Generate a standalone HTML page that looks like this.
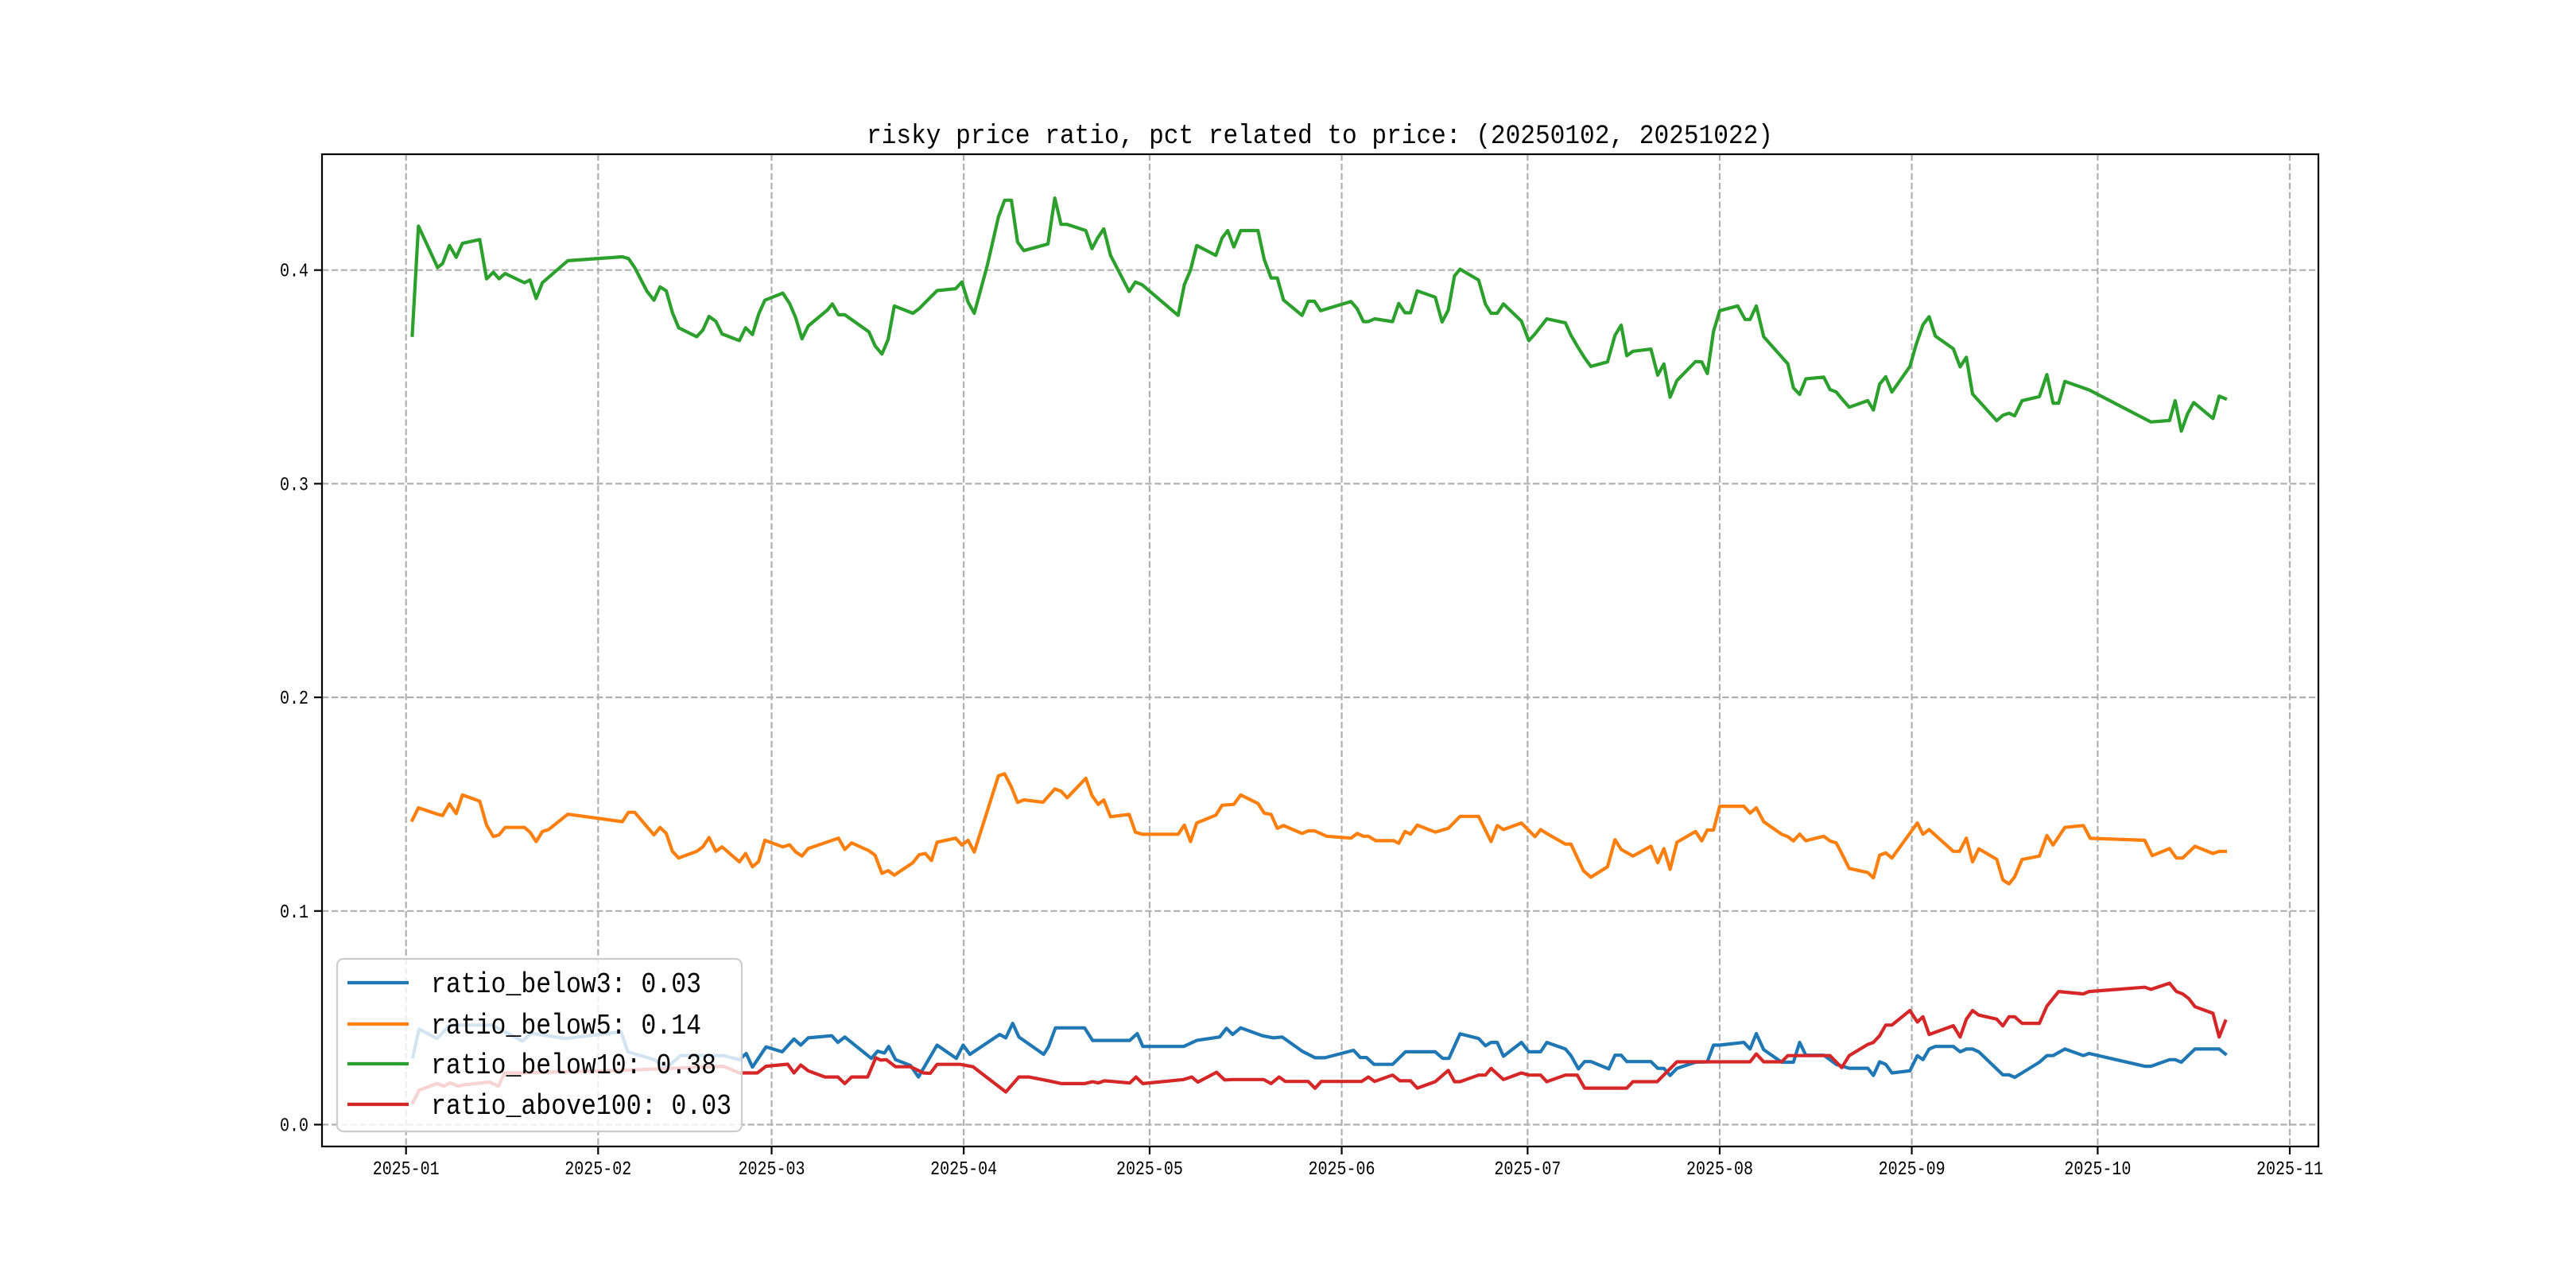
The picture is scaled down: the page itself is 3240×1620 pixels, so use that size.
<!DOCTYPE html>
<html><head><meta charset="utf-8"><style>
html,body{margin:0;padding:0;background:#fff;}
svg{display:block;}
text{font-family:"Liberation Mono","Noto Sans CJK SC",monospace;fill:#000;}
</style></head><body>
<svg id="chart" width="3240" height="1620" viewBox="0 0 3240 1620" xmlns="http://www.w3.org/2000/svg">
<rect x="0" y="0" width="3240" height="1620" fill="#fff"/>
<text x="1660" y="180" font-size="34" text-anchor="middle" textLength="1140" lengthAdjust="spacingAndGlyphs">risky price ratio, pct related to price: (20250102, 20251022)</text>
<g id="grid"></g><g id="series"></g><g id="axes"></g><g id="legend"></g>
</svg>
<script>
// x values = days since 2025-01-01
const xTickLabels = ["2025-01","2025-02","2025-03","2025-04","2025-05","2025-06","2025-07","2025-08","2025-09","2025-10","2025-11"];
const xTickDays = [0,31,59,90,120,151,181,212,243,273,304];
const yTickValues = [0.0,0.1,0.2,0.3,0.4];
const yTickLabels = ["0.0","0.1","0.2","0.3","0.4"];
const seriesNames = ["ratio_below3: 0.03","ratio_below5: 0.14","ratio_below10: 0.38","ratio_above100: 0.03"];
const seriesColors = ["#1f77b4","#ff7f0e","#2ca02c","#d62728"];

const below10Days = [1,2,3.1,5.1,5.9,7,8.1,9.1,11.9,13,14.1,15,16,19.1,20,21,22,23,26.1,34.9,35.9,36.9,38.9,40,41,42,43,44,46.9,47.9,48.9,50,51,53.8,54.8,55.9,56.9,57.9,60.8,61.9,62.9,63.9,64.9,68,68.8,69.8,70.8,74.7,75.7,76.8,77.8,78.8,81.8,82.8,85.7,88.7,89.7,90.7,91.7,93.8,95.6,96.6,97.7,98.7,99.7,103.6,104.7,105.7,106.7,109.7,110.7,111.6,112.6,113.7,116.7,117.7,118.8,124.6,125.6,126.6,127.6,130.7,131.7,132.6,133.6,134.7,137.5,138.5,139.6,140.6,141.6,144.6,145.6,146.6,147.6,152.5,153.5,154.5,155.3,156.3,159.2,160.2,161.2,162.1,163.2,166.1,167.2,168.2,169.2,170.1,173.1,174.2,175.1,176.1,177.1,180,181.2,182.2,184.1,187.1,188,189,190.2,191.2,193.9,195.1,196.1,197,198,200.9,202,203,204,205.1,208.1,209.1,210,211,212,214.9,216.1,216.9,217.9,219.1,223,223.9,224.9,225.9,228.8,229.8,230.8,231.7,232.9,235.9,236.8,237.8,238.8,239.8,242.7,243.7,244.8,245.8,246.8,249.7,250.8,251.8,252.8,256.7,257.7,258.7,259.6,260.8,263.6,264.8,265.8,266.7,267.7,271.6,281.6,284.6,285.5,286.5,287.5,288.5,291.6,292.6,293.6];
const below10Vals = [0.3695,0.4206,0.4137,0.4012,0.4031,0.4115,0.406,0.4125,0.4143,0.3959,0.399,0.3959,0.3984,0.3941,0.3954,0.3867,0.3941,0.3966,0.4044,0.4062,0.4054,0.4012,0.39,0.3859,0.3921,0.3903,0.38,0.373,0.3688,0.3719,0.3783,0.376,0.3701,0.367,0.373,0.3698,0.3794,0.3859,0.3892,0.3844,0.3776,0.3678,0.3738,0.3813,0.3842,0.3791,0.3791,0.3711,0.3645,0.3607,0.3676,0.3832,0.3798,0.3819,0.3904,0.3913,0.3944,0.385,0.3798,0.4022,0.4249,0.4327,0.4327,0.4131,0.4091,0.4122,0.4337,0.4214,0.4214,0.4185,0.41,0.415,0.4193,0.4069,0.39,0.3944,0.3931,0.3788,0.3931,0.4,0.4115,0.4069,0.415,0.4185,0.4108,0.4185,0.4185,0.405,0.3963,0.3963,0.386,0.3788,0.3854,0.3854,0.381,0.3853,0.3819,0.3759,0.3759,0.3772,0.3759,0.3844,0.38,0.38,0.3903,0.3873,0.3757,0.3813,0.3973,0.4004,0.3953,0.384,0.3798,0.3798,0.3842,0.3761,0.367,0.3701,0.3772,0.3753,0.3695,0.3645,0.3589,0.3549,0.357,0.3695,0.3742,0.3599,0.362,0.363,0.3508,0.3561,0.3405,0.3483,0.3572,0.357,0.3516,0.3713,0.381,0.3832,0.3769,0.3769,0.3832,0.3688,0.3561,0.3449,0.3418,0.3491,0.3499,0.3441,0.343,0.3398,0.3358,0.3389,0.3345,0.3466,0.3501,0.3429,0.3549,0.3651,0.3744,0.3782,0.3691,0.3632,0.3547,0.3592,0.342,0.3295,0.332,0.333,0.3318,0.3389,0.3408,0.3511,0.3377,0.3377,0.3479,0.3439,0.3289,0.3296,0.3389,0.3246,0.3327,0.338,0.3305,0.341,0.3398];

const below5Days = [1,2,5.1,5.9,7,8.1,9.1,11.9,13,14.1,15,16,19.1,20,21,22,23,26.1,34.9,35.9,36.9,40,41,42,43,44,46.9,47.9,48.9,50,51,53.8,54.8,55.9,56.9,57.9,60.8,61.9,62.9,63.9,64.9,69.8,70.8,71.9,74.7,75.7,76.8,77.8,78.8,81.8,82.8,83.8,84.8,85.7,88.7,89.7,90.7,91.7,93.8,95.6,96.6,97.7,98.7,99.7,102.8,104.7,105.7,106.7,109.7,110.7,111.7,112.6,113.7,116.7,117.7,118.8,124.6,125.6,126.6,127.6,130.7,131.7,133.6,134.7,137.5,138.5,139.6,140.6,141.6,144.6,145.6,146.6,148.6,152.5,153.5,154.5,155.3,156.5,159.4,160.2,161.2,162.1,163.2,166.1,168.2,170.1,173.1,175.1,176.1,177.1,180,182.2,183.1,184.1,187.1,188,190,191.2,193.9,195.1,196.1,198,200.9,202,203,204,205.1,208.1,209.1,210,211,212,215.9,216.9,217.9,219.1,222,223,223.9,224.9,225.9,228.8,229.8,230.8,231.7,232.9,235.9,236.8,237.8,238.8,239.8,243.9,244.8,245.8,249.7,250.7,251.8,252.8,253.8,256.7,257.7,258.7,259.6,260.8,263.6,264.8,265.8,267.7,270.7,271.8,280.6,281.8,284.6,285.7,286.7,288.7,291.6,292.6,293.6];
const below5Vals = [0.1425,0.1483,0.1453,0.1447,0.1502,0.1456,0.1543,0.1514,0.1402,0.1348,0.1356,0.1391,0.1391,0.1369,0.1325,0.1372,0.1381,0.1453,0.1418,0.1462,0.1462,0.1356,0.1391,0.1363,0.1279,0.1248,0.1279,0.13,0.1344,0.1279,0.13,0.123,0.1269,0.1207,0.1232,0.1331,0.13,0.131,0.1276,0.1257,0.1292,0.1341,0.1288,0.1319,0.1282,0.1261,0.1176,0.1189,0.1168,0.1226,0.1263,0.1269,0.1236,0.1322,0.1341,0.1309,0.1331,0.1276,0.1468,0.1633,0.1642,0.158,0.1508,0.152,0.1509,0.1571,0.1561,0.153,0.1621,0.154,0.1499,0.152,0.1441,0.1452,0.1369,0.1359,0.1359,0.1402,0.1325,0.1412,0.1449,0.1495,0.1499,0.1543,0.1503,0.1458,0.1452,0.1387,0.14,0.1363,0.1375,0.1375,0.135,0.1341,0.1363,0.135,0.135,0.1329,0.1329,0.1317,0.1372,0.136,0.1402,0.1369,0.1387,0.1443,0.1443,0.1325,0.14,0.1381,0.1412,0.1348,0.1381,0.1363,0.1313,0.1313,0.1189,0.1158,0.1207,0.1334,0.1288,0.1257,0.1303,0.1226,0.1292,0.1195,0.1322,0.1372,0.1328,0.1379,0.1379,0.149,0.149,0.1458,0.1483,0.1418,0.1359,0.1348,0.1328,0.136,0.1329,0.135,0.1328,0.1319,0.1269,0.1199,0.118,0.1155,0.1261,0.1272,0.1248,0.1412,0.1359,0.1381,0.1279,0.1279,0.1341,0.123,0.1291,0.1242,0.1145,0.1127,0.116,0.1241,0.1257,0.1353,0.1309,0.1391,0.14,0.134,0.1331,0.1259,0.1292,0.1248,0.1248,0.1303,0.1269,0.1279,0.1279];

const below3Days = [1.1,2.1,5,7.1,14,15.1,18.8,20.2,25.7,34.7,35.8,40,42.1,44.3,51.2,53.8,54.9,55.9,58.1,60.7,62.6,63.7,64.9,68.7,69.7,70.8,75.1,76.1,77.2,77.9,79,81.4,82.7,85.7,88.8,89.9,91,95.8,96.8,97.9,98.9,102.9,103.7,104.8,109.5,110.8,116.8,118,118.9,125.5,127.6,131.3,132.4,133.4,134.7,138.2,140,141.4,144.6,146.7,148.3,152.9,154,155,156.2,159.2,161.3,166.1,167.3,168.3,170.1,173.1,174.2,175.1,176.1,177.1,180,181.2,183.1,184.1,187.1,188,189.2,190.2,191.2,194.1,195.1,196.1,197,200.9,202,203,204,205.1,208.1,210,211,212,215.9,216.9,217.9,219.1,222,223.9,224.9,225.9,228.8,230.8,232.9,235.9,236.8,237.8,238.8,239.8,242.7,243.9,244.8,245.8,246.8,249.7,250.8,251.8,252.8,253.8,257.7,258.7,259.6,263.6,264.8,265.8,267.7,270.7,271.6,280.6,281.6,284.6,285.5,286.5,288.7,292.6,293.6];
const below3Vals = [0.0317,0.0447,0.0403,0.0466,0.0466,0.0447,0.0391,0.0428,0.0403,0.0434,0.0341,0.0304,0.0267,0.0323,0.0323,0.0304,0.0333,0.0269,0.0364,0.0341,0.0401,0.0372,0.0406,0.0416,0.0385,0.041,0.031,0.0344,0.0335,0.0366,0.0304,0.0277,0.0223,0.0372,0.031,0.0372,0.0329,0.0422,0.0406,0.0474,0.041,0.0329,0.0366,0.0453,0.0453,0.0394,0.0394,0.0426,0.0366,0.0366,0.0394,0.041,0.0451,0.0422,0.0453,0.0416,0.0406,0.041,0.0344,0.0313,0.0313,0.0348,0.0314,0.0314,0.0282,0.0282,0.0341,0.0341,0.031,0.031,0.0425,0.0403,0.0369,0.0385,0.0385,0.032,0.0385,0.0341,0.0341,0.0385,0.0354,0.0323,0.0261,0.0295,0.0295,0.0261,0.0325,0.0325,0.0295,0.0295,0.0264,0.0263,0.023,0.0263,0.0292,0.0294,0.0372,0.0372,0.0385,0.0354,0.0426,0.0351,0.0292,0.0292,0.0385,0.0325,0.0325,0.0282,0.0264,0.0264,0.023,0.0294,0.0282,0.0242,0.0252,0.0323,0.0304,0.0354,0.0366,0.0366,0.0341,0.0354,0.0354,0.0341,0.0233,0.0233,0.0221,0.0292,0.0323,0.0323,0.0354,0.0323,0.0333,0.0273,0.0273,0.0304,0.0304,0.0292,0.0354,0.0354,0.0331];

const above100Days = [1.1,2.1,5,6.1,7.1,8.5,9.2,13.5,14.9,15.9,18.3,34.7,51.2,53.8,56.7,58.1,61.6,62.6,63.7,64.9,67.6,69.7,70.8,71.9,74.5,75.8,76.6,77.5,79,81.4,83.5,84.6,85.7,89.4,91.5,96.8,98.9,100.5,103.7,105.8,109.5,110.8,111.7,112.7,116.8,117.8,118.9,125.5,126.8,127.8,130.8,132.1,133.4,138.4,139.6,140.9,141.9,145.6,146.7,147.7,152.8,154.2,155.3,156.3,159.2,160.4,162.1,163.2,166.1,168.2,169.2,170.1,173.1,174.2,175.1,177.1,180,181.2,183.1,184.1,187.1,189,190.2,197,198,201.9,205.1,216.9,217.9,219.1,222,223,229.8,231.7,232.9,235.9,236.8,237.8,238.8,239.8,242.7,243.9,244.8,245.8,249.7,250.8,251.8,252.8,253.8,256.7,257.7,258.7,259.6,260.8,263.6,264.8,266.7,270.7,271.6,280.6,281.6,284.6,285.7,286.7,287.7,288.7,291.6,292.6,293.6];
const above100Vals = [0.0103,0.0161,0.0192,0.018,0.0195,0.018,0.0186,0.0199,0.018,0.0242,0.0242,0.0254,0.0273,0.0242,0.0242,0.0273,0.0283,0.0242,0.0279,0.0252,0.0223,0.0223,0.0192,0.0223,0.0223,0.0313,0.0302,0.0304,0.0271,0.0271,0.0242,0.024,0.0282,0.0282,0.0271,0.0153,0.0223,0.0223,0.0205,0.0192,0.0192,0.0201,0.0195,0.0205,0.0195,0.0223,0.0192,0.0211,0.0223,0.0199,0.0245,0.0209,0.0211,0.0211,0.0192,0.0223,0.0202,0.0202,0.017,0.0202,0.0202,0.0202,0.0223,0.0202,0.0232,0.0205,0.0205,0.0171,0.0201,0.0254,0.0201,0.0201,0.0232,0.0232,0.0263,0.0211,0.0242,0.0232,0.0232,0.0201,0.0232,0.0232,0.0171,0.0171,0.0201,0.0201,0.0294,0.0294,0.0331,0.0294,0.0294,0.0323,0.0323,0.0267,0.0323,0.0375,0.0385,0.0416,0.0466,0.0466,0.0534,0.048,0.0505,0.0422,0.0463,0.041,0.0493,0.0534,0.0513,0.0494,0.0462,0.0505,0.0505,0.0474,0.0474,0.0555,0.0623,0.0612,0.0623,0.0643,0.0633,0.0662,0.0623,0.0612,0.059,0.0552,0.0521,0.041,0.0484];

const NS = "http://www.w3.org/2000/svg";
const AX = {left:405, right:2916, top:194, bottom:1442};
function xScale(d){ return 510.7 + d * ((2880 - 510.7)/304); }
function yScale(v){ return 1414.5 - v * 2687; }
function mk(tag, attrs, parent){ const e=document.createElementNS(NS,tag); for(const k in attrs) e.setAttribute(k,attrs[k]); parent.appendChild(e); return e; }

const grid=document.getElementById('grid'), ser=document.getElementById('series'), axes=document.getElementById('axes'), leg=document.getElementById('legend');

xTickDays.forEach((d,i)=>{
  const x=xScale(d);
  const g=mk('line',{x1:x,x2:x,y1:AX.top,y2:AX.bottom,stroke:'#b0b0b0','stroke-width':2.2,'stroke-dasharray':'8.3 3.6'},grid);
  
  
  const t=mk('line',{x1:x,x2:x,y1:AX.bottom,y2:AX.bottom+10,stroke:'#000','stroke-width':2.2},axes);
  
  
  const l=mk('text',{x:x,y:1477,'font-size':24,'text-anchor':'middle',textLength:84,lengthAdjust:'spacingAndGlyphs'},axes);
  l.textContent=xTickLabels[i];
  
  
});
yTickValues.forEach((v,i)=>{
  const y=yScale(v);
  const g=mk('line',{x1:AX.left,x2:AX.right,y1:y,y2:y,stroke:'#b0b0b0','stroke-width':2.2,'stroke-dasharray':'8.3 3.6'},grid);
  
  
  const t=mk('line',{x1:AX.left-10,x2:AX.left,y1:y,y2:y,stroke:'#000','stroke-width':2.2},axes);
  
  
  const l=mk('text',{x:388,y:y+8,'font-size':24,'text-anchor':'end',textLength:36,lengthAdjust:'spacingAndGlyphs'},axes);
  l.textContent=yTickLabels[i];
  
  
});

const allDays=[below3Days,below5Days,below10Days,above100Days];
const allVals=[below3Vals,below5Vals,below10Vals,above100Vals];
const seriesKeys=['below3','below5','below10','above100'];
allDays.forEach((days,s)=>{
  const pts=days.map((d,i)=>xScale(d).toFixed(1)+','+yScale(allVals[s][i]).toFixed(1)).join(' ');
  const p=mk('polyline',{points:pts,fill:'none',stroke:seriesColors[s],'stroke-width':4.2,'stroke-linejoin':'round','stroke-linecap':'square'},ser);
  
  
});

const frame=mk('rect',{x:AX.left,y:AX.top,width:AX.right-AX.left,height:AX.bottom-AX.top,fill:'none',stroke:'#000','stroke-width':2.2},axes);



const lb=mk('rect',{x:424,y:1206,width:509,height:217,rx:8,fill:'#fff','fill-opacity':0.8,stroke:'#cccccc','stroke-width':2.2},leg);


const rowY=[1236,1288,1338,1389];
seriesNames.forEach((n,i)=>{
  const h=mk('line',{x1:437,x2:514,y1:rowY[i],y2:rowY[i],stroke:seriesColors[i],'stroke-width':4.2},leg);
  
  
  const t=mk('text',{x:542,y:rowY[i]+12,'font-size':36,textLength:Math.round(n.length*18.9),lengthAdjust:'spacingAndGlyphs'},leg);
  t.textContent=n;
  
  
});
</script>
</body></html>
